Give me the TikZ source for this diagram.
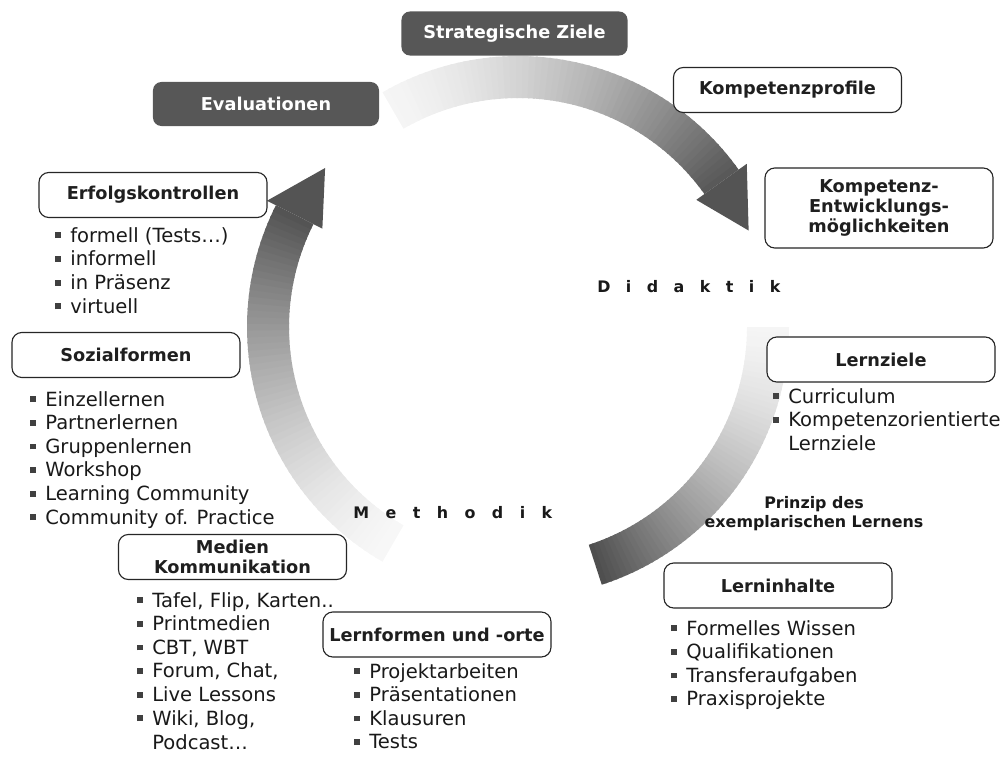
\documentclass[tikz,border=0pt]{standalone}
\usepackage{fontspec}
\setmainfont{DejaVu Sans}
\usetikzlibrary{positioning}

% small square bullet in front of each list line
\newcommand{\bul}{\makebox[10.7pt][l]{\textcolor{black!75}{\raisebox{2.7pt}{\rule{4.2pt}{4.2pt}}}}}

% one piece of the shaded ring: start angle, end angle, light, dark
\newcommand{\ringpart}[4]{%
  \foreach \i in {0,...,59}{%
    \pgfmathsetmacro{\angA}{(#1)+((#2)-(#1))*\i/60}%
    \pgfmathsetmacro{\angB}{(#1)+((#2)-(#1))*min(\i+1.3,60)/60}%
    \pgfmathsetmacro{\shadeval}{(#3)+((#4)-(#3))*((\i+0.5)/60)^1.5}%
    \fill[black!\shadeval] (\angA:229) -- (\angA:271) -- (\angB:271) -- (\angB:229) -- cycle;
  }}

\tikzset{
  darkbox/.style={rectangle, rounded corners=6pt, fill=black!66, text=white,
    font=\bfseries\fontsize{12.6}{15}\selectfont,
    minimum width=5.65cm, minimum height=1.1cm, inner sep=2pt},
  topicbox/.style={rectangle, rounded corners=7pt, draw=black!85, line width=0.8pt,
    fill=white, text=black!88, align=center,
    font=\bfseries\fontsize{12.6}{14.5}\selectfont,
    minimum width=5.7cm, minimum height=1.125cm, inner sep=2pt},
  listitem/.style={anchor=base west, inner sep=0pt, text=black!90,
    font=\fontsize{13.9}{16}\selectfont},
  spacedword/.style={anchor=base west, inner sep=0pt, text=black!90,
    font=\bfseries\fontsize{11.3}{13}\selectfont},
}

\begin{document}
\begin{tikzpicture}[x=0.025cm, y=-0.025cm]
  \useasboundingbox (0,0) rectangle (1004,756);

  % the cycle
  \begin{scope}[shift={(518,327)}]
    \ringpart{-120}{-35.5}{4}{66}
    \ringpart{0}{72}{4}{70}
    \ringpart{120}{206.7}{3}{68}
    \fill[black!67] (-35.5:219) -- (-22.7:250) -- (-35.5:281) -- cycle;
    \fill[black!67] (206.7:219) -- (219.5:250) -- (206.7:281) -- cycle;
  \end{scope}

  % boxes
  \node[darkbox] (ziele) at (514.5,33.5) {Strategische Ziele};
  \node[darkbox] (eval) at (266,104) {Evaluationen};
  \node[topicbox] (profile) at (787.5,90) {Kompetenzprofile};
  \node[topicbox, minimum height=2cm] (entw) at (879,208)
    {Kompetenz-\\Entwicklungs-\\möglichkeiten};
  \node[topicbox] (erfolg) at (153,195) {Erfolgskontrollen};
  \node[topicbox] (sozial) at (126,355) {Sozialformen};
  \node[topicbox] (lernziel) at (881,359.5) {Lernziele};
  \node[topicbox] (medien) at (232.5,557) {Medien\\Kommunikation};
  \node[topicbox] (formen) at (437,634.5) {Lernformen und -orte};
  \node[topicbox] (inhalte) at (778,585.5) {Lerninhalte};

  % lists
  \foreach \txt [count=\k] in {{formell (Tests…)}, informell, in Präsenz, virtuell}
    \node[listitem] (erf\k) at (55,{242+23.7*(\k-1)}) {\bul\txt};
  \foreach \txt [count=\k] in {Einzellernen, Partnerlernen, Gruppenlernen, Workshop,
      Learning Community, Community of. Practice}
    \node[listitem] (soz\k) at (30,{406+23.6*(\k-1)}) {\bul\txt};
  \foreach \txt [count=\k] in {{Tafel, Flip, Karten..}, Printmedien, {CBT, WBT},
      {Forum, Chat,}, Live Lessons, {Wiki, Blog,}}
    \node[listitem] (med\k) at (137,{607+23.6*(\k-1)}) {\bul\txt};
  \node[listitem] (med7) at (152,749) {Podcast…};
  \foreach \txt [count=\k] in {Projektarbeiten, Präsentationen, Klausuren, Tests}
    \node[listitem] (frm\k) at (354,{678+23.6*(\k-1)}) {\bul\txt};
  \foreach \txt [count=\k] in {Curriculum, Kompetenzorientierte}
    \node[listitem] (lz\k) at (773,{403+23.6*(\k-1)}) {\bul\txt};
  \node[listitem] (lz3) at (788,450) {Lernziele};
  \foreach \txt [count=\k] in {Formelles Wissen, Qualifikationen, Transferaufgaben,
      Praxisprojekte}
    \node[listitem] (inh\k) at (671,{635+23.6*(\k-1)}) {\bul\txt};

  % labels inside the ring
  \node[spacedword] (didaktik) at (597,292)
    {\spaceskip=11pt\relax D i d a k t i k};
  \node[spacedword] (methodik) at (353,518)
    {\spaceskip=11.7pt\relax M e t h o d i k};
  \node[align=center, inner sep=0pt, text=black!90,
    font=\bfseries\fontsize{11.3}{13.5}\selectfont]
    (prinzip) at (814,514) {Prinzip des\\exemplarischen Lernens};
\end{tikzpicture}
\end{document}
